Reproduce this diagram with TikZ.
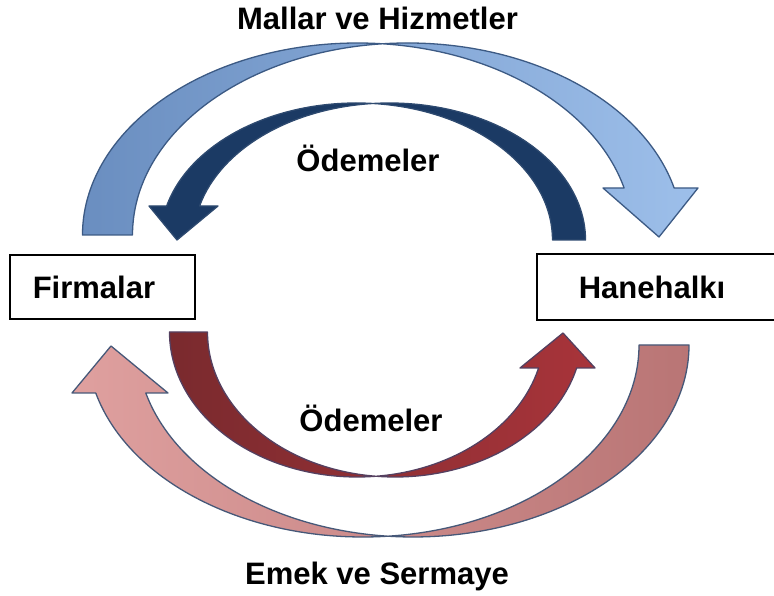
\documentclass[tikz,border=0pt]{standalone}
\usepackage{fontspec}
\setmainfont{Liberation Sans}
\usepackage{xcolor}
\usepackage{tikz}
\usetikzlibrary{positioning}
\definecolor{mhblueL}{HTML}{6A8EC0}
\definecolor{mhblueR}{HTML}{9DBFEA}
\definecolor{mhblueD}{HTML}{3C5A84}
\definecolor{odnavy}{HTML}{1B3A64}
\definecolor{odnavyD}{HTML}{2E4A70}
\definecolor{odredL}{HTML}{7A2A2E}
\definecolor{odredR}{HTML}{A8343A}
\definecolor{odredD}{HTML}{544060}
\definecolor{esroseL}{HTML}{DFA09F}
\definecolor{esroseR}{HTML}{B97575}
\definecolor{esroseD}{HTML}{465878}

\begin{document}
\begin{tikzpicture}[x=1pt, y=1pt,
  flowarrow/.style={line width=1.3pt, line join=round},
  sectorbox/.style={line width=1.6pt, minimum height=64pt, anchor=west,
    align=left, font=\fontsize{31}{36}\selectfont\bfseries},
  flowlabel/.style={anchor=base, font=\fontsize{31}{36}\selectfont\bfseries}]

  \useasboundingbox (0,0) rectangle (774,596);
  \clip (0,0) rectangle (774,596);

  %% Mallar ve Hizmetler: Firmalar -> Hanehalki (outer, top)
  \draw[flowarrow, draw=mhblueD, left color=mhblueL, right color=mhblueR]
    (82.5,361) arc[start angle=180, end angle=84.78, x radius=275, y radius=192]
    arc[start angle=95.22, end angle=14.17, x radius=275, y radius=192]
    -- (698,408) -- (659,359) -- (603,408) -- (624.1,408)
    arc[start angle=14.17, end angle=84.78, x radius=275, y radius=192]
    arc[start angle=95.22, end angle=180, x radius=275, y radius=192] -- cycle;

  %% Odemeler: Hanehalki -> Firmalar (inner, top)
  \draw[flowarrow, draw=odnavyD, fill=odnavy]
    (585.5,356) arc[start angle=0, end angle=94.83, x radius=196, y radius=137]
    arc[start angle=85.17, end angle=165.63, x radius=196, y radius=137]
    -- (149,390) -- (177,356) -- (218,390) -- (199.6,390)
    arc[start angle=165.63, end angle=94.83, x radius=196, y radius=137]
    arc[start angle=85.17, end angle=0, x radius=196, y radius=137] -- cycle;

  %% Odemeler: Firmalar -> Hanehalki (inner, bottom)
  \draw[flowarrow, draw=odredD, left color=odredL, right color=odredR]
    (169.5,264) arc[start angle=180, end angle=275.82, x radius=187.5, y radius=145]
    arc[start angle=264.18, end angle=345.63, x radius=187.5, y radius=145]
    -- (595,228) -- (563,263) -- (520,228) -- (538.6,228)
    arc[start angle=345.63, end angle=275.82, x radius=187.5, y radius=145]
    arc[start angle=264.18, end angle=180, x radius=187.5, y radius=145] -- cycle;

  %% Emek ve Sermaye: Hanehalki -> Firmalar (outer, bottom)
  \draw[flowarrow, draw=esroseD, left color=esroseL, right color=esroseR]
    (689,251) arc[start angle=360, end angle=264.8, x radius=276, y radius=192]
    arc[start angle=275.2, end angle=194.48, x radius=276, y radius=192]
    -- (72,203) -- (111,250) -- (168,203) -- (145.8,203)
    arc[start angle=194.48, end angle=264.8, x radius=276, y radius=192]
    arc[start angle=275.2, end angle=360, x radius=276, y radius=192] -- cycle;

  %% Sectors (Hanehalki box runs off the right edge)
  \node[sectorbox, draw=black, inner xsep=23pt, text width=139pt] (firma) at (9,309) {Firmalar};
  \node[sectorbox, inner xsep=41pt, text width=180pt] (hane) at (537,309) {Hanehalkı};
  \draw[line width=1.6pt] (hane.north east) -- (hane.north west)
    -- (hane.south west) -- (hane.south east);

  %% Labels
  \node[flowlabel] (mallar) at (377.5,566) {Mallar ve Hizmetler};
  \node[flowlabel] (odemeust) at (368,424) {Ödemeler};
  \node[flowlabel] (odemealt) at (371,164) {Ödemeler};
  \node[flowlabel] (emek) at (377,11) {Emek ve Sermaye};

\end{tikzpicture}
\end{document}
